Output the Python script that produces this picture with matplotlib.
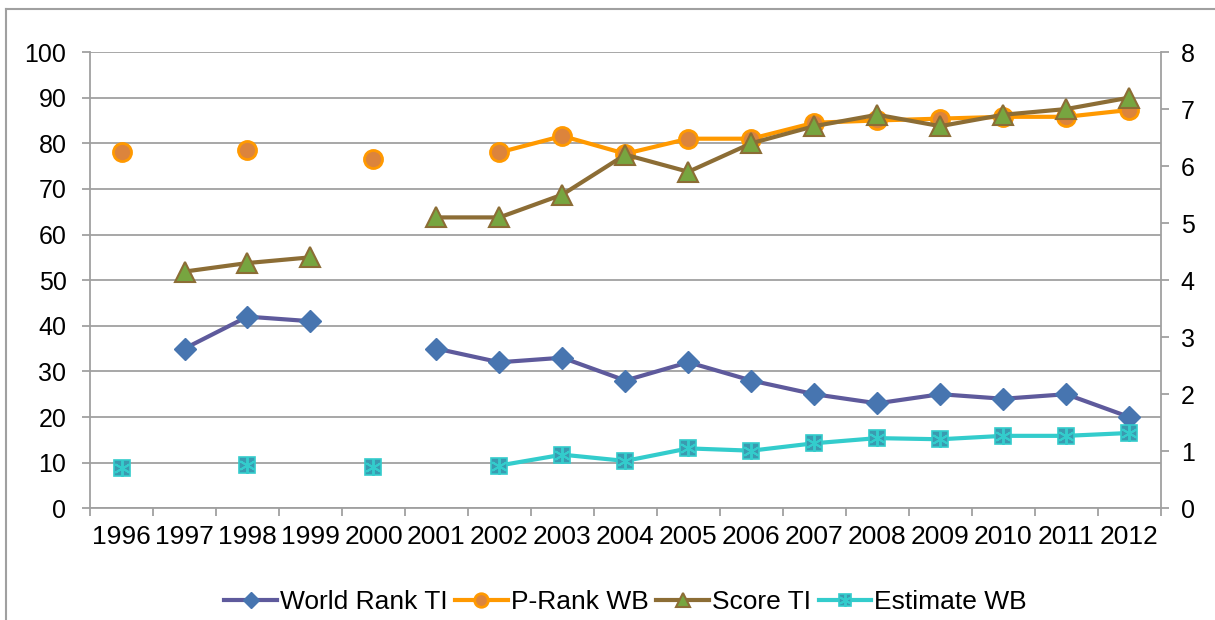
import numpy as np
import matplotlib
matplotlib.use("Agg")
import matplotlib.pyplot as plt
from matplotlib.lines import Line2D
from matplotlib.legend_handler import HandlerTuple

plt.rcParams["font.family"] = ["Liberation Sans", "DejaVu Sans"]

# years on the category axis
years = [str(y) for y in range(1996, 2013)]
nan = np.nan

# left axis series
world_rank_ti = [nan, 35, 42, 41, nan, 35, 32, 33, 28, 32, 28, 25, 23, 25, 24, 25, 20]
p_rank_wb = [78.0, nan, 78.5, nan, 76.5, nan, 78.0, 81.6, 77.7, 81.0, 81.0, 84.5, 85.0, 85.4, 85.8, 85.8, 87.3]

# right axis series
score_ti = [nan, 4.15, 4.3, 4.4, nan, 5.1, 5.1, 5.5, 6.2, 5.9, 6.4, 6.7, 6.9, 6.7, 6.9, 7.0, 7.2]
estimate_wb = [0.71, nan, 0.76, nan, 0.73, nan, 0.75, 0.94, 0.83, 1.05, 1.01, 1.14, 1.23, 1.21, 1.27, 1.27, 1.32]

left_ticks = list(range(0, 101, 10))
right_ticks = list(range(0, 9))

fig = plt.figure(figsize=(12.15, 6.2), dpi=100)
ax = fig.add_axes([0.0741, 0.1802, 0.9553 - 0.0741, 0.9161 - 0.1802])
ax2 = ax.twinx()

x = np.arange(len(years))
grid_col = "#A0A0A0"

# gridlines and spines
ax.set_axisbelow(True)
ax.yaxis.grid(True, color=grid_col, linewidth=1.3)
for a in (ax, ax2):
    for side in a.spines:
        a.spines[side].set_visible(False)
ax.spines["left"].set_visible(True)
ax.spines["left"].set_color(grid_col)
ax.spines["bottom"].set_visible(True)
ax.spines["bottom"].set_color(grid_col)
ax2.spines["right"].set_visible(True)
ax2.spines["right"].set_color(grid_col)
for s in ("left", "bottom"):
    ax.spines[s].set_linewidth(1.3)
ax2.spines["right"].set_linewidth(1.3)

h1, = ax.plot(x, world_rank_ti, color="#5E5A9C", lw=3, marker="D", ms=11,
              mfc="#4775B0", mec="#4775B0", label="World Rank TI")
h2, = ax.plot(x, p_rank_wb, color="#FF9900", lw=3, marker="o", ms=13,
              mfc="#DC843C", mec="#FF9900", mew=2, label="P-Rank WB")

h3, = ax2.plot(x, score_ti, color="#8C6D35", lw=3, marker="^", ms=14,
               mfc="#77A540", mec="#8C6D35", mew=1.5, label="Score TI")
h4, = ax2.plot(x, estimate_wb, color="#33CCCC", lw=3, marker="s", ms=12,
               mfc="#3A9AB0", mec="#33CCCC", mew=1.2, label="Estimate WB")
h4s, = ax2.plot(x, estimate_wb, ls="none", marker=(6, 2, 0), ms=12,
                mec="#33CCCC", mew=1.4)

ax.set_xlim(-0.5, len(years) - 0.5)
ax.set_ylim(0, 100)
ax2.set_ylim(0, 8)
ax.set_yticks(left_ticks)
ax2.set_yticks(right_ticks)

# category ticks: marks at boundaries, labels at centres
ax.set_xticks(np.arange(-0.5, len(years), 1.0))
ax.set_xticklabels([])
ax.set_xticks(x, minor=True)
ax.set_xticklabels(years, minor=True)
ax.tick_params(axis="x", which="major", length=6, width=1.3, color=grid_col)
ax.tick_params(axis="x", which="minor", length=0, labelsize=19, pad=12)
ax.tick_params(axis="y", length=6, width=1.3, color=grid_col, labelsize=18, pad=11)
ax2.tick_params(axis="y", length=6, width=1.3, color=grid_col, labelsize=18, pad=8.5)

ax.legend([h1, h2, h3, (h4, h4s)], ["World Rank TI", "P-Rank WB", "Score TI", "Estimate WB"],
          handler_map={tuple: HandlerTuple(ndivide=1, pad=0)},
          loc="center", bbox_to_anchor=(0.5, -0.205), ncol=4, frameon=False,
          fontsize=19, handlelength=2.0, handletextpad=0.1, columnspacing=0.3,
          markerscale=0.75)

# outer chart frame (top and left edges)
fig.add_artist(Line2D([6 / 1215, 1], [1 - 9 / 620, 1 - 9 / 620], color="#A0A0A0", lw=1.5))
fig.add_artist(Line2D([6 / 1215, 6 / 1215], [0, 1 - 9 / 620], color="#A0A0A0", lw=1.5))

fig.savefig("out.png", dpi=100)
